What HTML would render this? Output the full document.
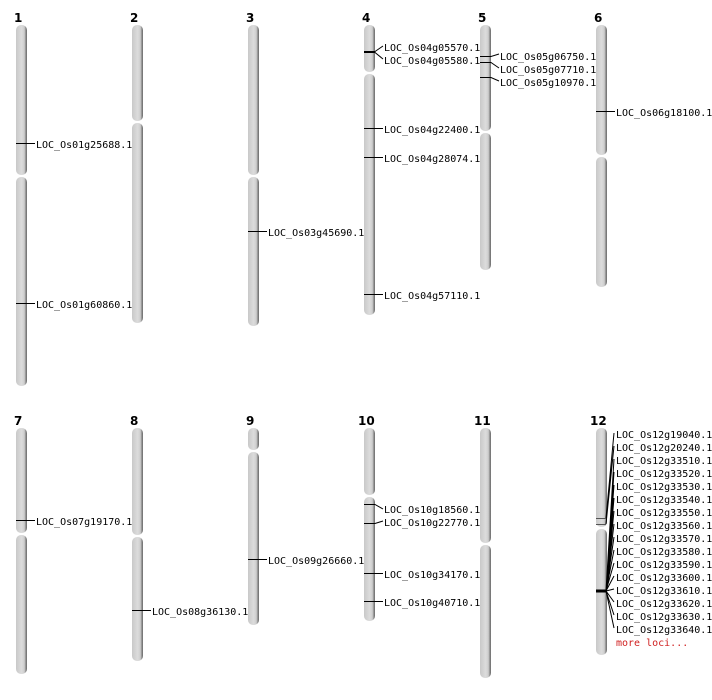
<!DOCTYPE html>
<html><head><meta charset="utf-8"><style>
html,body{margin:0;padding:0;background:#fff;}
svg{display:block;}
text{font-family:"DejaVu Sans Mono","Liberation Mono",monospace;font-size:10px;fill:#000;}
.n{font-family:"DejaVu Sans","Liberation Sans",sans-serif;font-weight:bold;font-size:12px;}
</style></head><body>
<svg width="712" height="700" viewBox="0 0 712 700" xmlns="http://www.w3.org/2000/svg">
<defs>
<linearGradient id="g" x1="0" x2="1" y1="0" y2="0">
<stop offset="0" stop-color="#c8c8c8"/><stop offset="0.5" stop-color="#dcdcdc"/><stop offset="0.75" stop-color="#cfcfcf"/><stop offset="0.9" stop-color="#8a8a8a"/><stop offset="1" stop-color="#6a6a6a"/>
</linearGradient>
</defs>
<g fill="url(#g)">
<!-- top row -->
<rect x="16" y="25" width="11" height="150" rx="5"/><rect x="16" y="177" width="11" height="209" rx="5"/>
<rect x="132" y="25" width="11" height="96" rx="5"/><rect x="132" y="123" width="11" height="200" rx="5"/>
<rect x="248" y="25" width="11" height="150" rx="5"/><rect x="248" y="177" width="11" height="149" rx="5"/>
<rect x="364" y="25" width="11" height="47" rx="5"/><rect x="364" y="74" width="11" height="241" rx="5"/>
<rect x="480" y="25" width="11" height="106" rx="5"/><rect x="480" y="133" width="11" height="137" rx="5"/>
<rect x="596" y="25" width="11" height="130" rx="5"/><rect x="596" y="157" width="11" height="130" rx="5"/>
<!-- bottom row -->
<rect x="16" y="428" width="11" height="105" rx="5"/><rect x="16" y="535" width="11" height="139" rx="5"/>
<rect x="132" y="428" width="11" height="107" rx="5"/><rect x="132" y="537" width="11" height="124" rx="5"/>
<rect x="248" y="428" width="11" height="22" rx="5"/><rect x="248" y="452" width="11" height="173" rx="5"/>
<rect x="364" y="428" width="11" height="67" rx="5"/><rect x="364" y="497" width="11" height="124" rx="5"/>
<rect x="480" y="428" width="11" height="115" rx="5"/><rect x="480" y="545" width="11" height="133" rx="5"/>
<rect x="596" y="428" width="11" height="99" rx="5"/><rect x="596" y="529" width="11" height="126" rx="5"/>
</g>
<g class="n">
<text class="n" x="14" y="22">1</text><text class="n" x="130" y="22">2</text><text class="n" x="246" y="22">3</text>
<text class="n" x="362" y="22">4</text><text class="n" x="478" y="22">5</text><text class="n" x="594" y="22">6</text>
<text class="n" x="14" y="425">7</text><text class="n" x="130" y="425">8</text><text class="n" x="246" y="425">9</text>
<text class="n" x="358" y="425">10</text><text class="n" x="474" y="425">11</text><text class="n" x="590" y="425">12</text>
</g>
<g stroke="#000" stroke-width="1" fill="none">
<path d="M16 143.5H35M16 303.5H35"/>
<path d="M248 231.5H267"/>
<path d="M364 51.5H375L383 46M364 52.5H375L383 59M364 128.5H383M364 157.5H383M364 294.5H383"/>
<path d="M480 56.5H491L499 54M480 62.5H491L499 68M480 77.5H491L499 81"/>
<path d="M596 111.5H615"/>
<path d="M16 520.5H35"/>
<path d="M132 610.5H151"/>
<path d="M248 559.5H267"/>
<path d="M364 504.5H375L383 509M364 523.5H375L383 521M364 573.5H383M364 601.5H383"/>
<path d="M596 518.5H606M596 524.5H606" stroke="#555"/>
<path d="M596 591H606" stroke-width="3"/>
<path d="M606 518L614 433M606 524L614 446M606 591L614 459M606 591L614 472M606 591L614 485M606 591L614 498M606 591L614 511M606 591L614 524M606 591L614 537M606 591L614 550M606 591L614 563M606 591L614 576M606 591L614 589M606 591L614 602M606 591L614 615M606 591L614 628"/>
</g>
<text x="36" y="148">LOC_Os01g25688.1</text>
<text x="36" y="308">LOC_Os01g60860.1</text>
<text x="268" y="236">LOC_Os03g45690.1</text>
<text x="384" y="51">LOC_Os04g05570.1</text>
<text x="384" y="64">LOC_Os04g05580.1</text>
<text x="384" y="133">LOC_Os04g22400.1</text>
<text x="384" y="162">LOC_Os04g28074.1</text>
<text x="384" y="299">LOC_Os04g57110.1</text>
<text x="500" y="60">LOC_Os05g06750.1</text>
<text x="500" y="73">LOC_Os05g07710.1</text>
<text x="500" y="86">LOC_Os05g10970.1</text>
<text x="616" y="116">LOC_Os06g18100.1</text>
<text x="36" y="525">LOC_Os07g19170.1</text>
<text x="152" y="615">LOC_Os08g36130.1</text>
<text x="268" y="564">LOC_Os09g26660.1</text>
<text x="384" y="513">LOC_Os10g18560.1</text>
<text x="384" y="526">LOC_Os10g22770.1</text>
<text x="384" y="578">LOC_Os10g34170.1</text>
<text x="384" y="606">LOC_Os10g40710.1</text>
<text x="616" y="438">LOC_Os12g19040.1</text>
<text x="616" y="451">LOC_Os12g20240.1</text>
<text x="616" y="464">LOC_Os12g33510.1</text>
<text x="616" y="477">LOC_Os12g33520.1</text>
<text x="616" y="490">LOC_Os12g33530.1</text>
<text x="616" y="503">LOC_Os12g33540.1</text>
<text x="616" y="516">LOC_Os12g33550.1</text>
<text x="616" y="529">LOC_Os12g33560.1</text>
<text x="616" y="542">LOC_Os12g33570.1</text>
<text x="616" y="555">LOC_Os12g33580.1</text>
<text x="616" y="568">LOC_Os12g33590.1</text>
<text x="616" y="581">LOC_Os12g33600.1</text>
<text x="616" y="594">LOC_Os12g33610.1</text>
<text x="616" y="607">LOC_Os12g33620.1</text>
<text x="616" y="620">LOC_Os12g33630.1</text>
<text x="616" y="633">LOC_Os12g33640.1</text>
<text x="616" y="646" style="fill:#d02020">more loci...</text>
</svg>
</body></html>
